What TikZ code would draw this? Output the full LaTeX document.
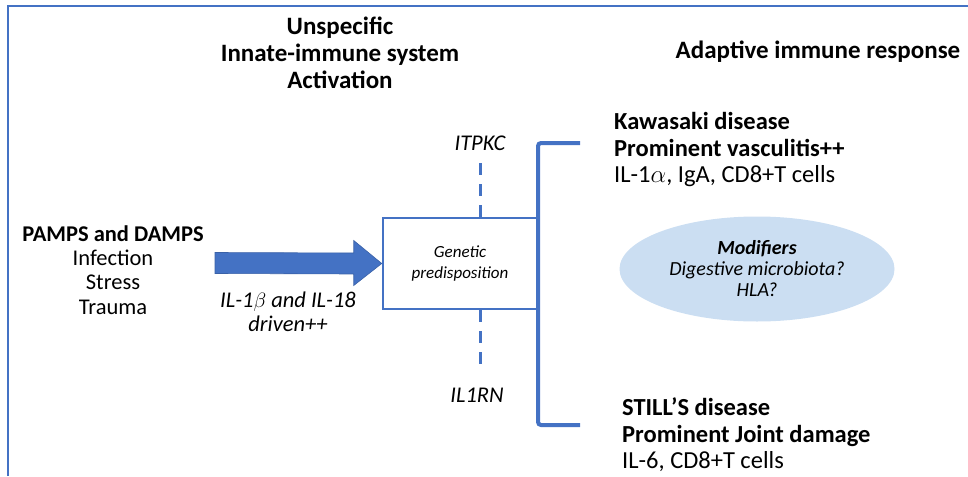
\documentclass[tikz,border=0pt]{standalone}
\usepackage{fontspec}
\setmainfont{Carlito}
\usetikzlibrary{shapes.geometric,calc}
\definecolor{obl}{RGB}{68,114,196}
\definecolor{ellfill}{RGB}{203,222,242}
\tikzset{
  txt/.style={inner sep=0pt, align=center},
  head/.style={txt, font=\bfseries\fontsize{25}{27}\selectfont},
  lbl/.style={txt, font=\itshape\fontsize{22.5}{24}\selectfont},
  dashline/.style={obl, line width=3pt, dash pattern=on 12pt off 9pt},
}
\begin{document}
\begin{tikzpicture}[x=1pt,y=-1pt]
\useasboundingbox (0,0) rectangle (968,476);
% frame
\draw[obl, line width=2pt] (8,476) -- (8,6) -- (968,6);
% headings
\node[head] (innate) at (340,53) {Unspecific\\Innate-immune system\\Activation};
\node[head] (adaptive) at (818,52) {Adaptive immune response};
% left text
\node[txt, font=\fontsize{22.5}{24.3}\selectfont] (pamps) at (113,270) {\textbf{PAMPS and DAMPS}\\Infection\\Stress\\Trauma};
% box
\node[draw=obl, line width=2.5pt, minimum width=154pt, minimum height=91pt, inner sep=0pt,
      align=center, font=\itshape\fontsize{17}{21}\selectfont] (box) at (460,263.5) {Genetic\\predisposition};
% arrow
\coordinate (astart) at (215,263);
\fill[obl, draw=obl!85!black, line width=0.6pt]
  ($(astart)+(0,-10.5)$) -- ($(box.west)+(-28,-10.5)$) -- ($(box.west)+(-28,-23)$) -- (box.west)
  -- ($(box.west)+(-28,22)$) -- ($(box.west)+(-28,10.5)$) -- ($(astart)+(0,10.5)$) -- cycle;
\node[lbl] (drive) at (288,312) {IL-1$\beta$ and IL-18\\driven++};
% genes
\node[lbl] (itpkc) at (480,143) {ITPKC};
\node[lbl] (il1rn) at (477,395) {IL1RN};
\coordinate (dtop) at (480,163);
\coordinate (dbot) at (480,368);
\draw[dashline] (dtop) -- (box.north -| dtop);
\draw[dashline] (box.south -| dbot) -- (dbot);
% bracket
\coordinate (b1) at (580,143);
\coordinate (b2) at (538,143);
\coordinate (b3) at (538,425);
\coordinate (b4) at (580,425);
\draw[obl, line width=4pt, rounded corners=3pt] (b1) -- (b2) -- (b3) -- (b4);
% diseases
\node[txt, align=left, anchor=west, font=\fontsize{24.5}{26.5}\selectfont] (kawa) at (614,150)
  {\textbf{Kawasaki disease}\\\textbf{Prominent vasculitis++}\\IL-1$\alpha$, IgA, CD8+T cells};
\node[txt, align=left, anchor=west, font=\fontsize{24.5}{26.5}\selectfont] (still) at (622,435)
  {\textbf{STILL’S disease}\\\textbf{Prominent Joint damage}\\IL-6, CD8+T cells};
% modifiers
\node[ellipse, fill=ellfill, minimum width=275pt, minimum height=105pt, inner sep=0pt, align=center,
      font=\itshape\fontsize{20}{21}\selectfont] (mod) at (757,269)
  {\textbf{Modifiers}\\Digestive microbiota?\\HLA?};
\end{tikzpicture}
\end{document}
